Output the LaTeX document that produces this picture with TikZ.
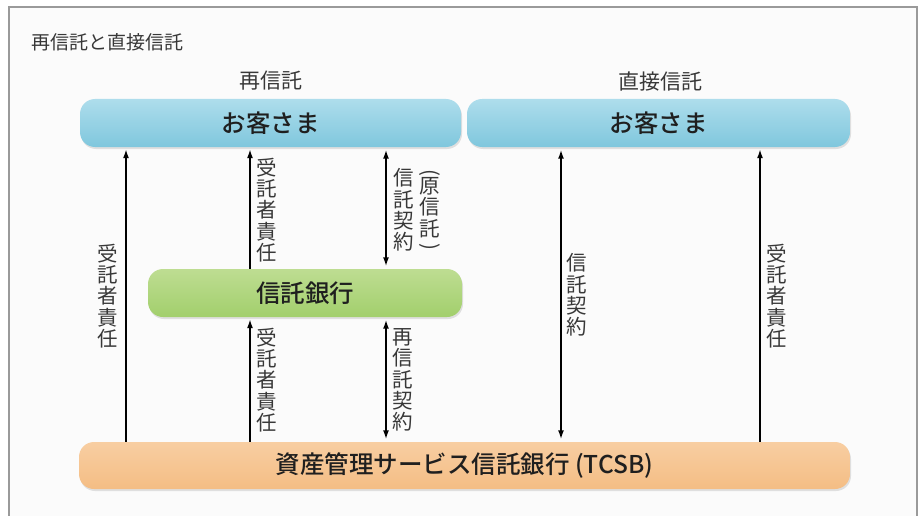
\documentclass[tikz,border=0pt]{standalone}
\usepackage{fontspec}
\setmainfont{Noto Sans CJK JP}[BoldFont={Noto Sans CJK JP Medium}]
\usetikzlibrary{shadows,arrows.meta}
\definecolor{bluetop}{HTML}{AEDDEC}
\definecolor{bluemid}{HTML}{5AB9D4}
\definecolor{bluebot}{HTML}{7FC7DD}
\definecolor{greentop}{HTML}{BEDD92}
\definecolor{greenmid}{HTML}{88C14C}
\definecolor{greenbot}{HTML}{A2CF6C}
\definecolor{orangetop}{HTML}{F8CEA2}
\definecolor{orangemid}{HTML}{EFA95E}
\definecolor{orangebot}{HTML}{F4BD84}
\definecolor{labcol}{HTML}{383838}
\definecolor{framecol}{HTML}{9A9A9A}
\begin{document}
\begin{tikzpicture}[x=1pt,y=-1pt,
  box/.style={rounded corners=15pt, draw=none, text=black!88, inner sep=0pt,
    font=\fontsize{24.5}{26}\selectfont\bfseries,
    drop shadow={opacity=0.22, shadow xshift=1pt, shadow yshift=-2pt}},
  custbox/.style={box, top color=bluetop, middle color=bluemid, bottom color=bluebot},
  bankbox/.style={box, top color=greentop, middle color=greenmid, bottom color=greenbot},
  tcsbbox/.style={box, top color=orangetop, middle color=orangemid, bottom color=orangebot},
  vlab/.style={align=center, text=labcol, inner sep=0pt, font=\fontsize{20.5}{21.3}\selectfont},
  head/.style={text=labcol, inner sep=0pt, font=\fontsize{21}{24}\selectfont},
  arr/.style={line width=1.6pt, -{Latex[length=9pt,width=6pt]}, shorten >=2pt},
  darr/.style={line width=1.6pt, {Latex[length=9pt,width=6pt]}-{Latex[length=9pt,width=6pt]}, shorten >=2.5pt, shorten <=2.5pt},
  ]
\useasboundingbox (0,0) rectangle (923,516);
\fill[white] (0,0) rectangle (923,516);
\fill[black!1.5] (9,7) rectangle (917,516);
\draw[framecol, line width=1.1pt] (9,516) -- (9,7) -- (917,7) -- (917,516);

\node[anchor=west, text=labcol, inner sep=0pt, font=\fontsize{19}{22}\selectfont] (title) at (31,42) {再信託と直接信託};
\node[head] (h1) at (271,81) {再信託};
\node[head] (h2) at (660,81) {直接信託};

\node[custbox, minimum width=381pt, minimum height=48pt] (c1) at (270.5,123) {お客さま};
\node[custbox, minimum width=383pt, minimum height=48pt] (c2) at (658.5,123) {お客さま};
\node[bankbox, minimum width=314pt, minimum height=48pt] (tb) at (305,293) {信託銀行};
\node[tcsbbox, minimum width=771pt, minimum height=47pt] (tcsb) at (464.5,465.5) {資産管理サービス信託銀行 (TCSB)};

\draw[arr] (126,0 |- tcsb.north) -- (126,0 |- c1.south);
\draw[arr] (250,0 |- tb.north) -- (250,0 |- c1.south);
\draw[darr] (386,0 |- tb.north) -- (386,0 |- c1.south);
\draw[arr] (250,0 |- tcsb.north) -- (250,0 |- tb.south);
\draw[darr] (386,0 |- tcsb.north) -- (386,0 |- tb.south);
\draw[darr] (561,0 |- tcsb.north) -- (561,0 |- c2.south);
\draw[arr] (760,0 |- tcsb.north) -- (760,0 |- c2.south);

\node[vlab] (l1) at (108,296) {受\\託\\者\\責\\任};
\node[vlab] (l2) at (267,210) {受\\託\\者\\責\\任};
\node[vlab] (l3) at (404,210) {信\\託\\契\\約};
\node[vlab] (l4) at (430,210) {\rotatebox{-90}{(}\\原\\信\\託\\[-14pt]\rotatebox{-90}{)}};
\node[vlab] (l5) at (267,380) {受\\託\\者\\責\\任};
\node[vlab] (l6) at (403,380) {再\\信\\託\\契\\約};
\node[vlab] (l7) at (577,295) {信\\託\\契\\約};
\node[vlab] (l8) at (777,296) {受\\託\\者\\責\\任};
\end{tikzpicture}
\end{document}
